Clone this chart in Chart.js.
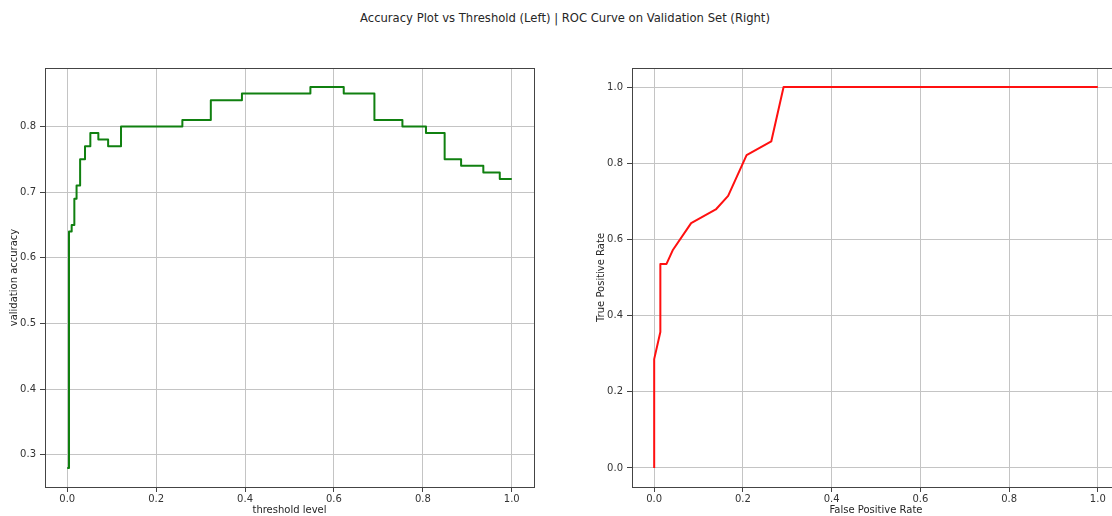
<!DOCTYPE html>
<html>
<head>
<meta charset="utf-8">
<script src="https://cdn.jsdelivr.net/npm/chart.js@4"></script>
<style>
  html, body { margin: 0; padding: 0; background: #fff; overflow: hidden; }
  body { width: 1112px; height: 516px; position: relative; }
  #title { position: absolute; left: 0; top: 11px; width: 1130px; text-align: center;
           font: 11.6px "DejaVu Sans", sans-serif; color: #262626; white-space: nowrap; }
  #accChart { position: absolute; left: 0; top: 0; }
  #rocChart { position: absolute; left: 556px; top: 0; }
</style>
</head>
<body>
<div id="title">Accuracy Plot vs Threshold (Left) | ROC Curve on Validation Set (Right)</div>
<canvas id="accChart" width="556" height="516"></canvas>
<canvas id="rocChart" width="570" height="516"></canvas>
<script>
// left plot: accuracy at each threshold (value holds until next threshold)
let thresholds = [0, 0.004, 0.010, 0.016, 0.021, 0.029, 0.040, 0.052, 0.070, 0.092, 0.121, 0.259,
                  0.323, 0.393, 0.547, 0.622, 0.691, 0.754, 0.807, 0.849, 0.886, 0.936, 0.973, 1.0];
let accuracy = [0.28, 0.64, 0.65, 0.69, 0.71, 0.75, 0.77, 0.79, 0.78, 0.77, 0.80, 0.81,
                0.84, 0.85, 0.86, 0.85, 0.81, 0.80, 0.79, 0.75, 0.74, 0.73, 0.72, 0.72];
let accXTicks = [0, 0.2, 0.4, 0.6, 0.8, 1.0];
let accYTicks = [0.3, 0.4, 0.5, 0.6, 0.7, 0.8];

// right plot: ROC curve
let fpr = [0, 0, 0.0139, 0.0139, 0.0278, 0.0417, 0.0833, 0.1389, 0.1667, 0.2083, 0.2639, 0.2917, 1.0];
let tpr = [0, 0.2857, 0.3571, 0.5357, 0.5357, 0.5714, 0.6429, 0.6786, 0.7143, 0.8214, 0.8571, 1.0, 1.0];
let rocXTicks = [0, 0.2, 0.4, 0.6, 0.8, 1.0];
let rocYTicks = [0, 0.2, 0.4, 0.6, 0.8, 1.0];

Chart.defaults.font.family = '"DejaVu Sans", sans-serif';
Chart.defaults.font.size = 10;
Chart.defaults.color = '#333';

// matplotlib-like frame round the plot area
const frame = {
    id: 'frame',
    afterDraw(chart){
        const a = chart.chartArea, ctx = chart.ctx;
        ctx.save();
        ctx.strokeStyle = '#444';
        ctx.lineWidth = 1;
        ctx.strokeRect(Math.round(a.left) + 0.5, Math.round(a.top) + 0.5,
                       Math.round(a.right - a.left), Math.round(a.bottom - a.top));
        ctx.restore();
    }
};

function axis(ticks, min, max, label, isY, width){
    return {
        type: 'linear',
        min: min,
        max: max,
        afterBuildTicks: s => { s.ticks = ticks.map(v => ({value: v})); },
        afterFit: s => { if (isY) s.width = width; else s.height = 29; },
        grid: { color: '#c4c4c4', lineWidth: 1, tickLength: 5, tickColor: '#444', drawTicks: true },
        border: { display: false },
        ticks: { padding: isY ? 4 : 1, maxRotation: 0, autoSkip: false,
                 callback: v => Number(v).toFixed(1) },
        title: { display: true, text: label, color: '#262626', font: { size: 10 },
                 padding: isY ? { top: 8, bottom: 0 } : { top: 0, bottom: 0 } }
    };
}

function lineChart(id, xs, ys, color, stepped, xScale, yScale, padding){
    let pts = xs.map((x, i) => ({ x: x, y: ys[i] }));
    return new Chart(document.getElementById(id), {
        type: 'scatter',
        data: { datasets: [{
            data: pts,
            showLine: true,
            stepped: stepped,
            borderColor: color,
            backgroundColor: color,
            borderWidth: 2,
            borderJoinStyle: 'round',
            pointRadius: 0,
            pointHoverRadius: 0
        }]},
        options: {
            responsive: false,
            animation: false,
            layout: { padding: padding },
            plugins: { legend: { display: false }, tooltip: { enabled: false } },
            scales: { x: xScale, y: yScale }
        },
        plugins: [frame]
    });
}

lineChart('accChart', thresholds, accuracy, '#108010', 'before',
    axis(accXTicks, -0.05, 1.05, 'threshold level', false),
    axis(accYTicks, 0.251, 0.889, 'validation accuracy', true, 45),
    { left: 0, right: 22, top: 68, bottom: 0 });

lineChart('rocChart', fpr, tpr, '#ff1010', false,
    axis(rocXTicks, -0.05, 1.05, 'False Positive Rate', false),
    axis(rocYTicks, -0.05, 1.05, 'True Positive Rate', true, 45),
    { left: 31, right: 6, top: 68, bottom: 0 });
</script>
</body>
</html>
